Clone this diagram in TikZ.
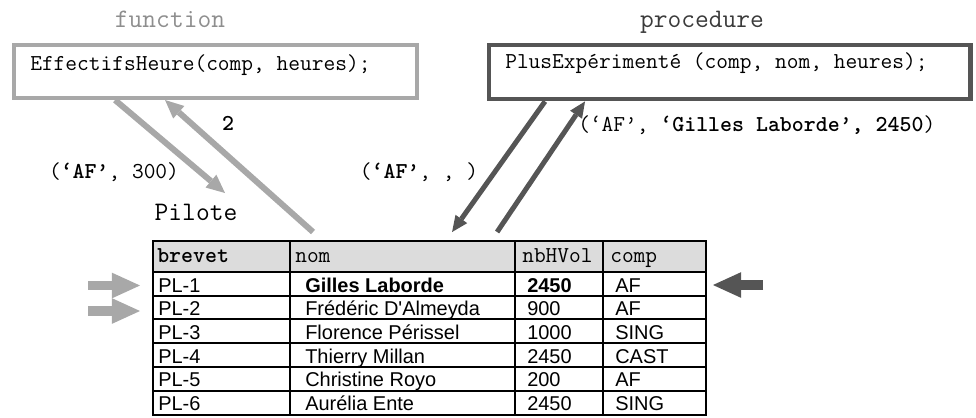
\documentclass[tikz,border=0pt]{standalone}
\usepackage{fontspec}
\setsansfont{Liberation Sans}[Ligatures=TeXOff]
\usetikzlibrary{arrows.meta,positioning}

\definecolor{lightgr}{HTML}{A8A8A8}
\definecolor{fungr}{HTML}{8E8E8E}
\definecolor{darkgr}{HTML}{555555}
\definecolor{procgr}{HTML}{3A3A3A}
\definecolor{headgr}{HTML}{DCDCDC}

\newcommand{\codefont}{\ttfamily\fontsize{16.2}{18}\selectfont}
\newcommand{\kindfont}{\ttfamily\fontsize{19}{21}\selectfont}
\newcommand{\cellfont}{\sffamily\fontsize{14.2}{16}\selectfont}

\begin{document}
\begin{tikzpicture}[
  x=0.025cm, y=-0.025cm,
  code/.style={inner sep=0pt, font=\codefont},
  kind/.style={inner sep=0pt, anchor=base, font=\kindfont},
  cell/.style={inner sep=0pt, anchor=base west, font=\cellfont},
  headcell/.style={inner sep=0pt, anchor=base west, font=\codefont},
  callbox/.style={draw, anchor=north west, inner sep=0pt},
  tabline/.style={line width=0.5mm},
  garr/.style={draw=lightgr, line width=1.5mm,
               -{Triangle[length=4.6mm,width=4.2mm,line width=0pt]}},
  darr/.style={draw=darkgr, line width=1.25mm,
               -{Triangle[length=4mm,width=3.6mm,line width=0pt]}},
  blk/.style={line width=2.3mm, -{Triangle[length=7mm,width=6.4mm,line width=0pt]}}
]
\useasboundingbox (0,0) rectangle (976,417);

% the two calls
\node[kind, text=fungr] (funkind) at (170,27) {function};
\node[kind, text=procgr] (prockind) at (702,27) {procedure};
\node[callbox, draw=lightgr, line width=1mm,
      minimum width=10.075cm, minimum height=1.325cm] (fun) at (12,43) {};
\node[code, anchor=base west] (funtxt) at (30,70) {EffectifsHeure(comp, heures);};
\node[callbox, draw=darkgr, line width=1.1mm,
      minimum width=12.025cm, minimum height=1.35cm] (proc) at (487,43) {};
\node[code, anchor=base west] (proctxt) at (505,68) {PlusExpérimenté (comp, nom, heures);};

% parameters
\node[code, anchor=base] (funin) at (114,178) {(\textbf{‘AF’}, 300)};
\node[code, anchor=base] (funout) at (228,130) {\textbf{2}};
\node[code, anchor=base] (procin) at (419,178) {(\textbf{‘AF’}, , )};
\node[code, anchor=base west] (procout) at (578,131)
  {(‘AF’, \textbf{‘Gilles Laborde’, 2450})};

% table Pilote
\node[kind] (tabname) at (196,220) {Pilote};
\fill[headgr] (152,240) rectangle (705,272);
\node[draw, tabline, anchor=north west, inner sep=0pt,
      minimum width=13.825cm, minimum height=4.355cm] (tab) at (152,240) {};
\foreach \i in {0,...,5}
  \draw[tabline] (152,{272+23.7*\i}) -- (705,{272+23.7*\i});
\foreach \x in {290,515,603}
  \draw[tabline] (\x,240) -- (\x,414.2);

\node[headcell] (hbrevet) at (157,262) {\textbf{brevet}};
\node[headcell] (hnom) at (295,262) {nom};
\node[headcell] (hheures) at (522,262) {nbHVol};
\node[headcell] (hcomp) at (610,262) {comp};

\foreach \b/\n/\h/\c [count=\i] in {
    PL-1/\textbf{Gilles Laborde}/\textbf{2450}/AF,
    PL-2/Frédéric D'Almeyda/900/AF,
    PL-3/Florence Périssel/1000/SING,
    PL-4/Thierry Millan/2450/CAST,
    PL-5/Christine Royo/200/AF,
    PL-6/Aurélia Ente/2450/SING} {
  \node[cell] (brevet\i) at (158,{292+23.7*(\i-1)}) {\b};
  \node[cell] (nom\i) at (305,{292+23.7*(\i-1)}) {\n};
  \node[cell] (heures\i) at (527,{292+23.7*(\i-1)}) {\h};
  \node[cell] (comp\i) at (615,{292+23.7*(\i-1)}) {\c};
}

% calls and results
\coordinate (funend) at (225,193);
\draw[garr] ([xshift=2.575cm]fun.south west) -- (funend);
\draw[garr] ([xshift=4.025cm,yshift=0.2cm]tab.north west) -- ([xshift=3.825cm]fun.south west);
\draw[darr] ([xshift=1.45cm]proc.south west) -- ([xshift=7.5cm,yshift=0.2cm]tab.north west);
\draw[darr] ([xshift=8.625cm,yshift=0.2cm]tab.north west) -- ([xshift=2.45cm]proc.south west);

% rows pointed at
\coordinate (selAtail) at (88,285.5);
\coordinate (selAtip) at (140,285.5);
\coordinate (selBtail) at (88,311);
\coordinate (selBtip) at (140,311);
\coordinate (bestTail) at (763,285);
\coordinate (bestTip) at (713,285);
\draw[blk, draw=lightgr] (selAtail) -- (selAtip);
\draw[blk, draw=lightgr] (selBtail) -- (selBtip);
\draw[blk, draw=darkgr, line width=2.5mm] (bestTail) -- (bestTip);
\end{tikzpicture}
\end{document}
